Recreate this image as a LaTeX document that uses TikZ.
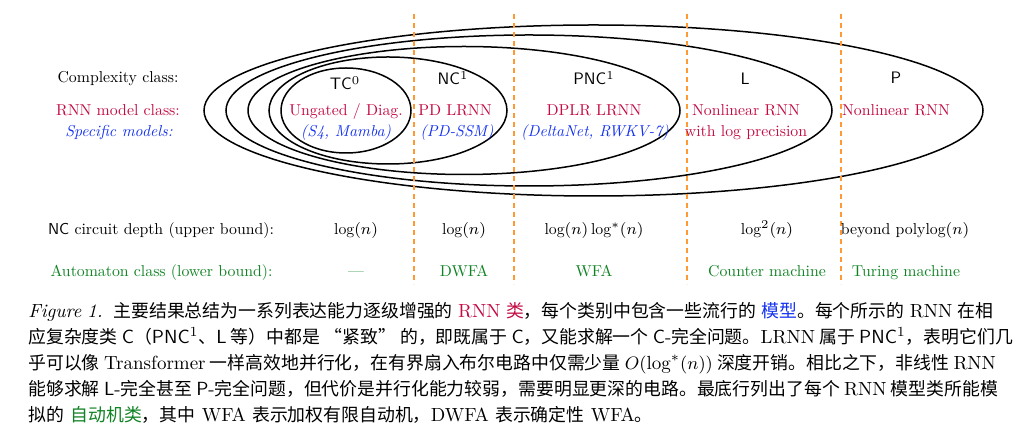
\documentclass[tikz,border=0pt]{standalone}
\usepackage{fontspec}
\setmainfont{lmroman10-regular}[Extension=.otf, ItalicFont=lmroman10-italic, BoldFont=lmroman10-bold, BoldItalicFont=lmroman10-bolditalic]
\setsansfont{lmsans10-regular}[Extension=.otf, ItalicFont=lmsans10-oblique, BoldFont=lmsans10-bold]
\newfontfamily\cjk[Scale=0.94]{Noto Sans CJK SC}
\newcommand{\zh}[1]{{\cjk #1}}
\definecolor{crim}{RGB}{195,12,68}
\definecolor{blu}{RGB}{20,50,240}
\definecolor{grn}{RGB}{15,130,35}
\definecolor{orng}{RGB}{255,153,51}
\newcommand{\capline}[1]{\hbox to 482.5pt{#1}}
\begin{document}
\begin{tikzpicture}[x=0.5pt,y=-0.5pt,
  lbl/.style={anchor=base, inner sep=0pt, font=\fontsize{7.9}{9.5}\selectfont},
  cls/.style={anchor=base, inner sep=0pt, font=\fontsize{8.3}{10}\selectfont\sffamily},
  mdl/.style={lbl, text=crim},
  spc/.style={lbl, text=blu, font=\fontsize{7.9}{9.5}\selectfont\itshape},
  aut/.style={lbl, text=grn},
  ell/.style={draw=black, line width=0.75pt},
  sep/.style={draw=orng, line width=0.8pt, dash pattern=on 2.5pt off 2pt},
  captext/.style={anchor=base west, inner sep=0pt, font=\fontsize{9.5}{12}\selectfont}]
\useasboundingbox (0,0) rectangle (1028,442);

% nested complexity classes
\draw[ell] (593.5,110.5) ellipse [x radius=194.75pt, y radius=42.75pt];
\draw[ell] (529,110.5) ellipse [x radius=151.5pt, y radius=37.75pt];
\draw[ell] (464,110.5) ellipse [x radius=108pt, y radius=32pt];
\draw[ell] (388,110.5) ellipse [x radius=59.5pt, y radius=26.75pt];
\draw[ell] (346,110.5) ellipse [x radius=32.5pt, y radius=21.25pt];

% separators
\draw[sep] (414,14) -- (414,284);
\draw[sep] (514,14) -- (514,284);
\draw[sep] (687,14) -- (687,284);
\draw[sep] (841,14) -- (841,284);

% row labels
\node[lbl] (cc) at (118,82.7) {Complexity class:};
\node[mdl] (mc) at (118,116) {RNN model class:};
\node[spc] (sm) at (119,136.7) {Specific models:};

% classes
\node[cls] (c1) at (345,90) {TC$^0$};
\node[cls] (c2) at (453,85) {NC$^1$};
\node[cls] (c3) at (594,85) {PNC$^1$};
\node[cls] (c4) at (745,84.3) {L};
\node[cls] (c5) at (896,84) {P};

% models
\node[mdl] (m1) at (346,116) {Ungated / Diag.};
\node[spc] (s1) at (346,136.7) {(S4, Mamba)};
\node[mdl] (m2) at (455,116) {PD LRNN};
\node[spc] (s2) at (457,136.7) {(PD-SSM)};
\node[mdl] (m3) at (594,116) {DPLR LRNN};
\node[spc] (s3) at (595,136.7) {(DeltaNet, RWKV-7)};
\node[mdl] (m4) at (746,116) {Nonlinear RNN};
\node[mdl] (m4b) at (746,136.7) {with log precision};
\node[mdl] (m5) at (896,116) {Nonlinear RNN};

% depth row
\node[lbl] (dl) at (161,234.3) {\textsf{NC} circuit depth (upper bound):};
\node[lbl] (d1) at (356,234.3) {$\log(n)$};
\node[lbl] (d2) at (464,234.3) {$\log(n)$};
\node[lbl] (d3) at (594,234.3) {$\log(n)\log^*(n)$};
\node[lbl] (d4) at (767,234.3) {$\log^2(n)$};
\node[lbl] (d5) at (905,234.3) {beyond polylog$(n)$};

% automaton row
\node[aut] (al) at (161.5,276.7) {Automaton class (lower bound):};
\node[aut] (a1) at (356,276.7) {---};
\node[aut] (a2) at (464,276.7) {DWFA};
\node[aut] (a3) at (594,276.7) {WFA};
\node[aut] (a4) at (767,276.7) {Counter machine};
\node[aut] (a5) at (906,276.7) {Turing machine};

% caption
\node[captext] (l1) at (28,318) {\capline{\textit{Figure 1.}\ \ \zh{主要结果总结为一系列表达能力逐级增强的} \textcolor{crim}{RNN \zh{类}}\zh{，每个类别中包含一些流行的} \textcolor{blu}{\zh{模型}}\zh{。每个所示的} RNN \zh{在相}}};
\node[captext] (l2) at (28,344) {\capline{\zh{应复杂度类} \textsf{C}\zh{（}\textsf{PNC}$^1$\zh{、}\textsf{L} \zh{等）中都是} \zh{“紧致”} \zh{的，即既属于} \textsf{C}\zh{，又能求解一个} \textsf{C}-\zh{完全问题。}LRNN \zh{属于} \textsf{PNC}$^1$\zh{，表明它们几}}};
\node[captext] (l3) at (28,370) {\capline{\zh{乎可以像} Transformer \zh{一样高效地并行化，在有界扇入布尔电路中仅需少量} $O(\log^*(n))$ \zh{深度开销。相比之下，非线性} RNN}};
\node[captext] (l4) at (28,396) {\capline{\zh{能够求解} \textsf{L}-\zh{完全甚至} \textsf{P}-\zh{完全问题，但代价是并行化能力较弱，需要明显更深的电路。最底行列出了每个} RNN \zh{模型类所能模}}};
\node[captext] (l5) at (28,421.7) {\zh{拟的} \textcolor{grn}{\zh{自动机类}}\zh{，其中} WFA \zh{表示加权有限自动机，}DWFA \zh{表示确定性} WFA\zh{。}};
\end{tikzpicture}
\end{document}
